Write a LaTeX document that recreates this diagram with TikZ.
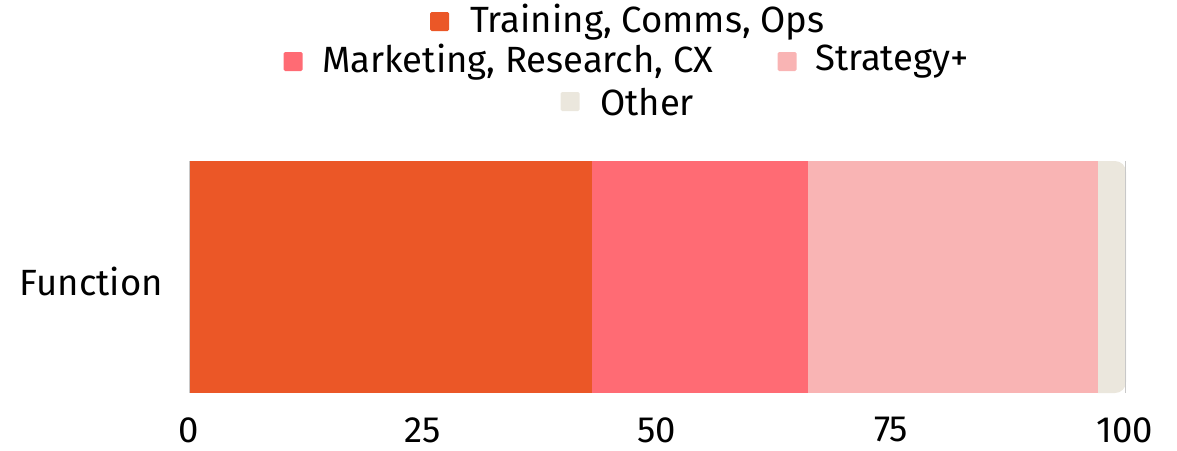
\documentclass[tikz,border=0pt]{standalone}
\usepackage{fontspec}
\setmainfont{Fira Sans}
\definecolor{cOrange}{HTML}{EB5727}
\definecolor{cPink}{HTML}{FF6B74}
\definecolor{cLight}{HTML}{F9B4B4}
\definecolor{cOther}{HTML}{EBE7DD}
\definecolor{cAxis}{HTML}{C8C8C8}
\tikzset{
  lbl/.style={font=\fontsize{36.5}{42}\selectfont, text=black, inner sep=0pt},
  sw/.style={minimum width=19pt, minimum height=19pt, inner sep=0pt, rounded corners=1.5pt},
  tick/.style={lbl, anchor=center}
}
\begin{document}
\begin{tikzpicture}[x=1pt,y=-1pt]
\useasboundingbox (0,0) rectangle (1177,450);
% bar segments
\fill[cOrange] (189,161) rectangle (592,393);
\fill[cPink] (592,161) rectangle (808,393);
\fill[cLight] (808,161) rectangle (1098,393);
\begin{scope}
  \clip (1098,150) rectangle (1140,400);
  \fill[cOther, rounded corners=11pt] (1070,161) rectangle (1126,393);
\end{scope}
% axis lines
\draw[cAxis, line width=0.8pt] (189,161) -- (189,393);
\draw[cAxis, line width=0.8pt] (1125.5,161) -- (1125.5,393);
% category label
\node[lbl, anchor=east] (cat) at (163,281) {Function};
% ticks
\node[tick] (t0) at (189,430) {0};
\node[tick] (t25) at (423,430) {25};
\node[tick] (t50) at (657,430) {50};
\node[tick] (t75) at (891,430) {75};
\node[tick] (t100) at (1125,430) {100};
% legend
\node[sw, fill=cOrange] (s1) at (439.5,21.5) {};
\node[lbl, anchor=west] (l1) at (470,22) {Training, Comms, Ops};
\node[sw, fill=cPink] (s2) at (293,61.5) {};
\node[lbl, anchor=west] (l2) at (322,62) {Marketing, Research, CX};
\node[sw, fill=cLight] (s3) at (787,61.5) {};
\node[lbl, anchor=west] (l3) at (815,62) {Strategy+};
\node[sw, fill=cOther] (s4) at (570,101.5) {};
\node[lbl, anchor=west] (l4) at (600,102) {Other};
\end{tikzpicture}
\end{document}
